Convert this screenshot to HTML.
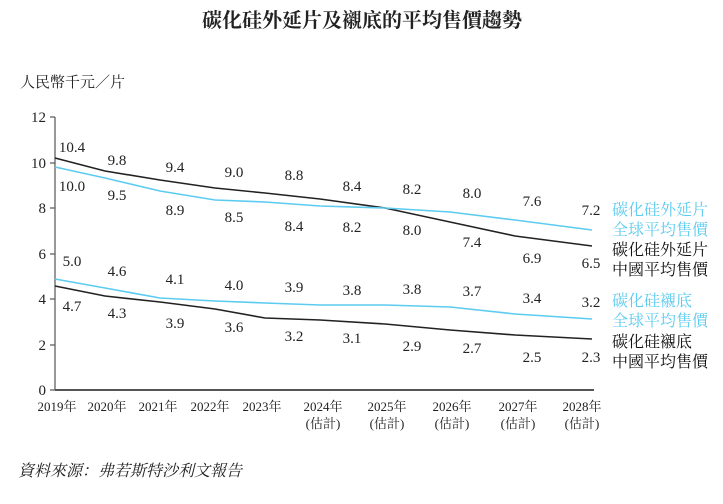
<!DOCTYPE html>
<html><head><meta charset="utf-8"><style>
body{margin:0;background:#fff;}
svg text{font-family:"Liberation Serif","Noto Serif CJK SC",serif;}
</style></head><body>
<svg width="723" height="499" viewBox="0 0 723 499" xmlns="http://www.w3.org/2000/svg">
<text x="362" y="27" text-anchor="middle" font-size="20" font-weight="bold" fill="#222">碳化硅外延片及襯底的平均售價趨勢</text>
<text x="20" y="87" font-size="15" fill="#222">人民幣千元／片</text>
<g stroke="#555" stroke-width="1.2" fill="none">
<line x1="55" y1="117" x2="55" y2="390"/>
<line x1="55" y1="390" x2="594" y2="390" stroke-width="2"/>
<line x1="50" y1="117" x2="55" y2="117"/><line x1="50" y1="163" x2="55" y2="163"/>
<line x1="50" y1="208" x2="55" y2="208"/><line x1="50" y1="254" x2="55" y2="254"/>
<line x1="50" y1="299" x2="55" y2="299"/><line x1="50" y1="345" x2="55" y2="345"/>
<line x1="50" y1="390" x2="55" y2="390"/>
</g>
<g font-size="15" fill="#222" text-anchor="end">
<text x="46" y="122">12</text><text x="46" y="168">10</text><text x="46" y="213">8</text>
<text x="46" y="259">6</text><text x="46" y="304">4</text><text x="46" y="350">2</text><text x="46" y="395">0</text>
</g>
<g font-size="13" fill="#222" text-anchor="middle">
<text x="57" y="411">2019年</text><text x="107" y="411">2020年</text><text x="158" y="411">2021年</text>
<text x="210" y="411">2022年</text><text x="262" y="411">2023年</text>
<text x="323" y="411">2024年</text><text x="387" y="411">2025年</text><text x="452" y="411">2026年</text>
<text x="518" y="411">2027年</text><text x="582" y="411">2028年</text>
<text x="323" y="428">(估計)</text><text x="387" y="428">(估計)</text><text x="452" y="428">(估計)</text>
<text x="518" y="428">(估計)</text><text x="582" y="428">(估計)</text>
</g>
<g fill="none" stroke-width="1.6">
<polyline stroke="#222" points="55,158 105,171 160,180 215,188 265,193 320,199 385,208 450,222 515,236 592,246"/>
<polyline stroke="#5ccbf0" points="55,167 105,178 160,191 215,200 265,202 320,206 385,208 450,212 515,220 592,230"/>
<polyline stroke="#5ccbf0" points="55,279 105,288 160,298 215,301 265,303 320,305 385,305 450,307 515,314 592,319"/>
<polyline stroke="#222" points="55,286 105,296 160,302 215,309 265,318 320,320 385,324 450,330 515,335 592,339"/>
</g>
<g font-size="15" fill="#222" text-anchor="middle">
<text x="72" y="152">10.4</text><text x="117" y="165">9.8</text><text x="175" y="172">9.4</text><text x="234" y="177">9.0</text><text x="294" y="180">8.8</text><text x="352" y="191">8.4</text><text x="412" y="194">8.2</text><text x="472" y="198">8.0</text><text x="532" y="206">7.6</text><text x="591" y="215">7.2</text>
<text x="72" y="191">10.0</text><text x="117" y="200">9.5</text><text x="175" y="215">8.9</text><text x="234" y="222">8.5</text><text x="294" y="231">8.4</text><text x="352" y="232">8.2</text><text x="412" y="235">8.0</text><text x="472" y="247">7.4</text><text x="532" y="263">6.9</text><text x="591" y="268">6.5</text>
<text x="72" y="266">5.0</text><text x="117" y="276">4.6</text><text x="175" y="284">4.1</text><text x="234" y="290">4.0</text><text x="294" y="292">3.9</text><text x="352" y="295">3.8</text><text x="412" y="294">3.8</text><text x="472" y="296">3.7</text><text x="532" y="303">3.4</text><text x="591" y="307">3.2</text>
<text x="72" y="311">4.7</text><text x="117" y="318">4.3</text><text x="175" y="328">3.9</text><text x="234" y="332">3.6</text><text x="294" y="341">3.2</text><text x="352" y="343">3.1</text><text x="412" y="351">2.9</text><text x="472" y="353">2.7</text><text x="532" y="362">2.5</text><text x="591" y="362">2.3</text>
</g>
<g font-size="16">
<text x="612" y="215" fill="#5ccbf0">碳化硅外延片</text><text x="612" y="235" fill="#5ccbf0">全球平均售價</text>
<text x="612" y="255" fill="#111">碳化硅外延片</text><text x="612" y="275" fill="#111">中國平均售價</text>
<text x="612" y="306" fill="#5ccbf0">碳化硅襯底</text><text x="612" y="326" fill="#5ccbf0">全球平均售價</text>
<text x="612" y="347" fill="#111">碳化硅襯底</text><text x="612" y="367" fill="#111">中國平均售價</text>
</g>
<text x="18" y="476" font-size="16" font-style="italic" fill="#222">資料來源：弗若斯特沙利文報告</text>
</svg>
</body></html>
